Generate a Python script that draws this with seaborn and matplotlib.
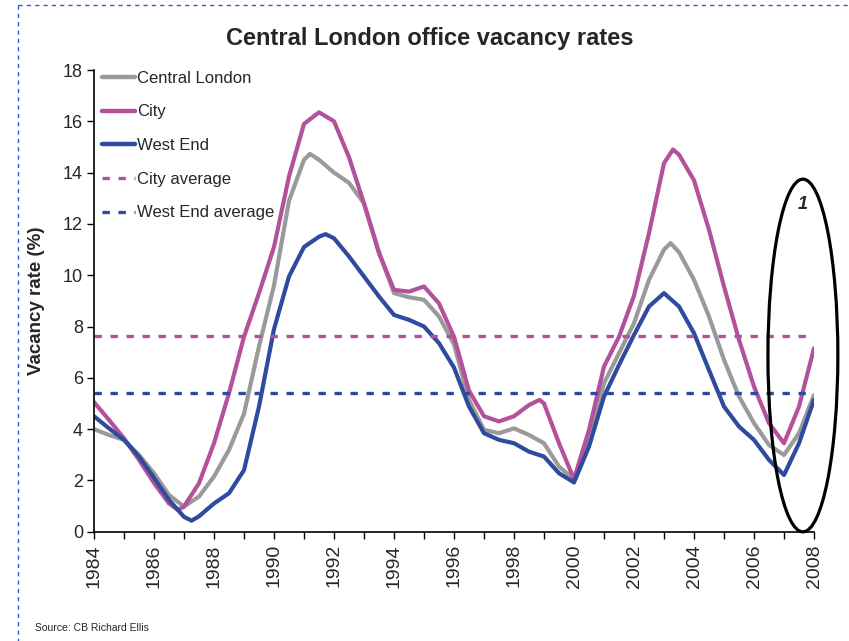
import matplotlib
matplotlib.use("Agg")
import matplotlib.pyplot as plt
from matplotlib.lines import Line2D
from matplotlib.patches import Ellipse
import numpy as np
import pandas as pd
import seaborn as sns

# ---- data ----
years_central = [1984, 1984.5, 1985, 1985.5, 1986, 1986.5, 1987, 1987.5, 1988, 1988.5, 1989, 1989.5,
                 1990, 1990.5, 1991, 1991.2, 1991.5, 1992, 1992.5, 1993, 1993.5, 1994, 1994.5, 1995, 1995.5,
                 1996, 1996.5, 1997, 1997.5, 1998, 1998.5, 1999, 1999.5, 2000, 2000.5, 2001, 2001.5,
                 2002, 2002.5, 2003, 2003.22, 2003.5, 2004, 2004.5, 2005, 2005.5, 2006, 2006.5, 2007, 2007.5, 2008]
central = [4.0, 3.77, 3.58, 2.99, 2.28, 1.43, 0.98, 1.37, 2.15, 3.19, 4.6, 7.22,
           9.6, 12.9, 14.5, 14.73, 14.5, 14.0, 13.6, 12.8, 10.9, 9.3, 9.14, 9.04, 8.39,
           7.3, 5.14, 3.97, 3.84, 4.03, 3.77, 3.45, 2.54, 2.04, 3.58, 5.79, 6.96,
           8.13, 9.82, 11.0, 11.25, 10.9, 9.82, 8.39, 6.7, 5.27, 4.23, 3.38, 2.99, 3.84, 5.33]

years_city = [1984, 1984.5, 1985, 1985.5, 1986, 1986.5, 1986.8, 1987, 1987.5, 1988, 1988.5, 1989, 1989.5,
              1990, 1990.5, 1991, 1991.5, 1992, 1992.5, 1993, 1993.5, 1994, 1994.5, 1995, 1995.5,
              1996, 1996.5, 1997, 1997.5, 1998, 1998.5, 1998.85, 1999, 1999.5, 2000, 2000.5, 2001, 2001.5,
              2002, 2002.5, 2003, 2003.3, 2003.5, 2004, 2004.5, 2005, 2005.5, 2006, 2006.5, 2007, 2007.5, 2008]
city = [5.05, 4.36, 3.64, 2.8, 1.9, 1.1, 0.85, 0.98, 1.89, 3.45, 5.4, 7.6, 9.3,
        11.1, 13.85, 15.9, 16.35, 16.0, 14.6, 12.8, 10.86, 9.43, 9.36, 9.56, 8.9,
        7.6, 5.5, 4.5, 4.3, 4.5, 4.94, 5.14, 5.0, 3.45, 2.05, 3.97, 6.44, 7.6,
        9.2, 11.64, 14.37, 14.9, 14.7, 13.7, 11.77, 9.56, 7.48, 5.66, 4.23, 3.45, 4.88, 7.15]

years_west = [1984, 1984.5, 1985, 1985.5, 1986, 1986.5, 1987, 1987.25, 1987.5, 1988, 1988.5, 1989, 1989.5,
              1990, 1990.5, 1991, 1991.5, 1991.72, 1992, 1992.5, 1993, 1993.5, 1994, 1994.5, 1995, 1995.5,
              1996, 1996.5, 1997, 1997.5, 1998, 1998.5, 1999, 1999.5, 2000, 2000.5, 2001, 2001.5,
              2002, 2002.5, 2003, 2003.5, 2004, 2004.5, 2005, 2005.5, 2006, 2006.5, 2007, 2007.5, 2008]
west_end = [4.5, 4.03, 3.58, 2.93, 2.1, 1.24, 0.58, 0.43, 0.6, 1.1, 1.5, 2.4, 4.88,
            7.9, 9.95, 11.1, 11.5, 11.6, 11.44, 10.73, 9.95, 9.17, 8.45, 8.26, 8.0, 7.35,
            6.4, 4.88, 3.84, 3.58, 3.45, 3.12, 2.93, 2.28, 1.92, 3.32, 5.27, 6.5,
            7.67, 8.78, 9.3, 8.78, 7.74, 6.3, 4.88, 4.1, 3.58, 2.8, 2.21, 3.45, 5.14]

city_average = 7.62
west_end_average = 5.40
avg_years = [1984, 2007.9]

series_names = ["Central London", "City", "West End"]
series_colors = ["#9a9a9a", "#b4519b", "#2f4b9e"]
xtick_years = list(range(1984, 2009, 2))
yticks = list(range(0, 19, 2))

# ---- build long table ----
frames = []
for name, yrs, vals in zip(series_names, [years_central, years_city, years_west],
                           [central, city, west_end]):
    frames.append(pd.DataFrame({"year": yrs, "rate": vals, "series": name}))
df = pd.concat(frames, ignore_index=True)

avg_df = pd.concat([
    pd.DataFrame({"year": avg_years, "rate": [city_average] * 2, "series": "City average"}),
    pd.DataFrame({"year": avg_years, "rate": [west_end_average] * 2, "series": "West End average"}),
], ignore_index=True)

sns.set_style("white")
regular = ["Liberation Sans", "DejaVu Sans"]
plt.rcParams["font.family"] = regular

fig = plt.figure(figsize=(8.49, 6.41), dpi=100)
ax = fig.add_axes([94 / 849, 1 - 531.7 / 641, 720 / 849, 461.7 / 641])

palette = dict(zip(series_names, series_colors))
sns.lineplot(data=df, x="year", y="rate", hue="series", palette=palette, ax=ax,
             linewidth=3.0, estimator=None, sort=True, legend=False)
sns.lineplot(data=avg_df, x="year", y="rate", hue="series",
             palette={"City average": series_colors[1], "West End average": series_colors[2]},
             ax=ax, linewidth=2.4, estimator=None, legend=False)
for ln in ax.lines:
    ln.set_solid_capstyle("round")
    ln.set_solid_joinstyle("round")
for ln in ax.lines[3:]:
    ln.set_dashes((2.2, 2.6))
    ln.set_dash_capstyle("butt")

ax.set_xlim(1984, 2008)
ax.set_ylim(0, 18)
ax.set_xticks(xtick_years)
ax.set_xticklabels([str(y) for y in xtick_years], rotation=90, fontsize=14)
ax.set_xticks(list(range(1984, 2009)), minor=True)
ax.set_yticks(yticks)
ax.set_yticklabels([str(v) for v in yticks], fontsize=13)
ax.tick_params(axis="x", which="both", direction="out", length=5, width=1, color="black", bottom=True, pad=4)
ax.tick_params(axis="y", which="major", direction="out", length=5, width=1, color="black", left=True, pad=3)
for s in ["top", "right"]:
    ax.spines[s].set_visible(False)
for s in ["left", "bottom"]:
    ax.spines[s].set_color("black")
    ax.spines[s].set_linewidth(1.2)
ax.set_xlabel("")
ax.set_ylabel("Vacancy rate (%)", fontsize=13.5, fontweight="bold")
ax.yaxis.set_label_coords(-0.068, 0.5)

# legend
handles = [Line2D([], [], color=series_colors[0], lw=3.2),
           Line2D([], [], color=series_colors[1], lw=3.2),
           Line2D([], [], color=series_colors[2], lw=3.2),
           Line2D([], [], color=series_colors[1], lw=2.4, dashes=(2.2, 2.6)),
           Line2D([], [], color=series_colors[2], lw=2.4, dashes=(2.2, 2.6))]
labels = series_names + ["City average", "West End average"]
ax.legend(handles, labels, loc="upper left", bbox_to_anchor=(-0.0097, 1.031), frameon=False,
          handlelength=2.0, handletextpad=0.1, labelspacing=1.12,
          prop={"size": 12})

# annotation ellipse
ax.add_patch(Ellipse((2007.63, 6.87), width=2.33, height=13.75, fill=False,
                     edgecolor="black", linewidth=2.3, clip_on=False, zorder=5))
ax.text(2007.63, 12.75, "1", fontsize=13, fontweight="bold", fontstyle="italic",
        ha="center", va="center")

# title and source
fig.text(0.506, 1 - 38 / 641, "Central London office vacancy rates", ha="center", va="center",
         fontsize=17, fontweight="bold")
fig.text(35 / 849, 1 - 628 / 641, "Source: CB Richard Ellis", ha="left", va="center",
         fontsize=7.5)

# dashed border fragments
fig.add_artist(Line2D([18 / 849, 1.0], [1 - 5 / 641, 1 - 5 / 641], transform=fig.transFigure,
                      color="#2a5bd0", lw=1.0, dashes=(3, 3)))
fig.add_artist(Line2D([18 / 849, 18 / 849], [1 - 5 / 641, 0.0], transform=fig.transFigure,
                      color="#2a5bd0", lw=1.0, dashes=(3, 3)))

fig.savefig("out.png", dpi=100)
